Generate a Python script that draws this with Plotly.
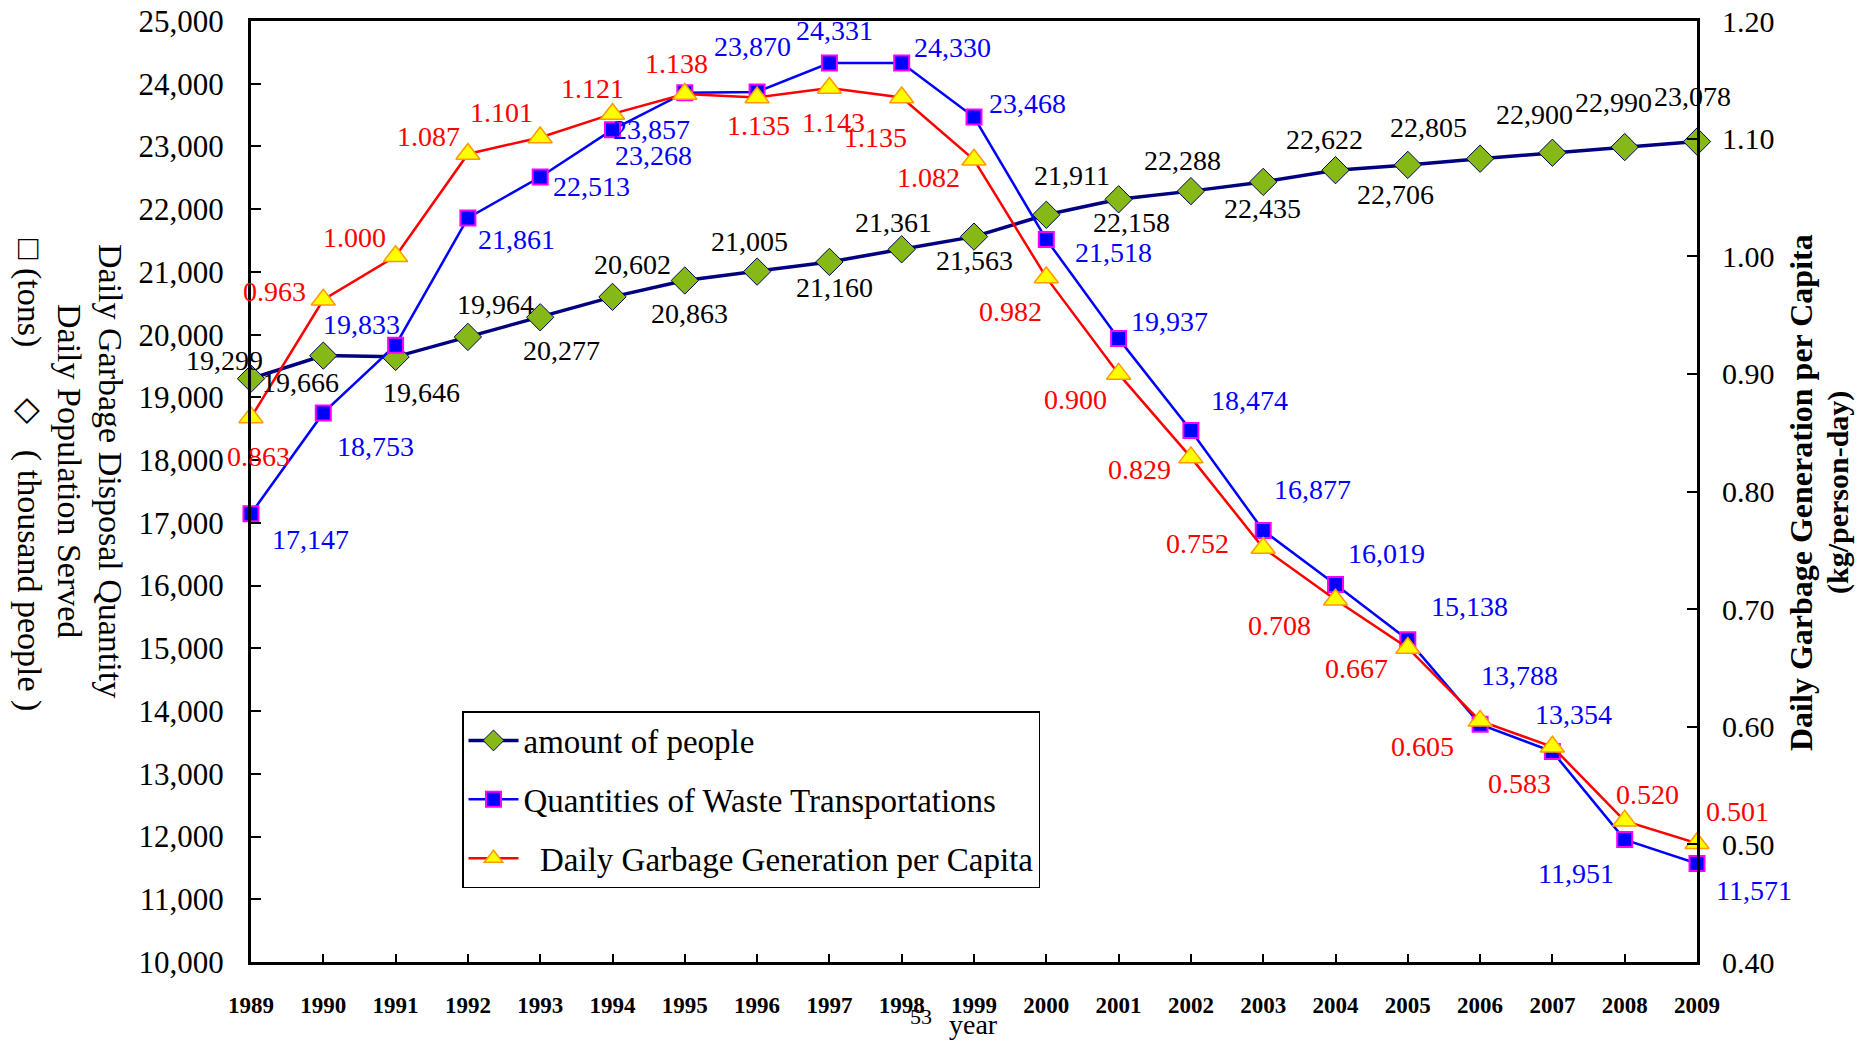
import plotly.graph_objects as go

years = [1989, 1990, 1991, 1992, 1993, 1994, 1995, 1996, 1997, 1998, 1999,
         2000, 2001, 2002, 2003, 2004, 2005, 2006, 2007, 2008, 2009]
year_labels = [str(y) for y in years]

people = [19299, 19666, 19646, 19964, 20277, 20602, 20863, 21005, 21160, 21361, 21563,
          21911, 22158, 22288, 22435, 22622, 22706, 22805, 22900, 22990, 23078]
waste = [17147, 18753, 19833, 21861, 22513, 23268, 23857, 23870, 24331, 24330, 23468,
         21518, 19937, 18474, 16877, 16019, 15138, 13788, 13354, 11951, 11571]
per_capita = [0.863, 0.963, 1.000, 1.087, 1.101, 1.121, 1.138, 1.135, 1.143, 1.135, 1.082,
              0.982, 0.900, 0.829, 0.752, 0.708, 0.667, 0.605, 0.583, 0.520, 0.501]

left_ticks = [10000 + 1000 * i for i in range(16)]
right_ticks = [0.40, 0.50, 0.60, 0.70, 0.80, 0.90, 1.00, 1.10, 1.20]

# label offsets (pixels) -- styling only
people_off = [(-27, 18), (-23, -27), (26, -36), (28, 32), (21, -33), (20, 32), (5, -33),
              (-8, 30), (5, -26), (-8, 27), (0, -24), (26, 39), (13, -23), (-8, 31),
              (-1, -27), (-11, 31), (-12, -30), (-52, 31), (-18, 38), (-11, 45), (-5, 45)]
waste_off = [(59, -26), (52, -34), (-34, 21), (49, -22), (51, -9), (41, -26), (-33, -37),
             (-5, 45), (5, 32), (51, 16), (53, 14), (67, -13), (51, 17), (59, 30),
             (49, 41), (51, 31), (62, 33), (39, 49), (21, 37), (-49, -34), (57, -27)]
pc_off = [(7, -39), (-49, 8), (-41, 19), (-39, 17), (-39, 25), (-20, 25), (-8, 30),
          (1, -28), (4, -34), (-26, -40), (-46, -18), (-36, -34), (-43, -26), (-51, -12),
          (-66, 4), (-56, -26), (-51, -21), (-58, -26), (-33, -37), (23, 26), (40, 32)]

W, H = 1858, 1043
L, R, T, B = 251, 1697, 21, 962
SERIF = "Liberation Serif, Times New Roman, serif"
LBL = 28


def px(x):
    return (x - L) / (R - L)


def py(y):
    return (B - y) / (B - T)


fig = go.Figure()
fig.add_trace(go.Scatter(
    x=years, y=people, mode="lines+markers", name="amount of people",
    line=dict(color="#000080", width=3.5),
    marker=dict(symbol="diamond", size=21, color="#86B817", line=dict(color="#000060", width=1)),
    cliponaxis=False, legendgroup="a"))
fig.add_trace(go.Scatter(
    x=years, y=waste, mode="lines+markers", name="Quantities of Waste Transportations",
    line=dict(color="#0000FF", width=2.5),
    marker=dict(symbol="square", size=15, color="#0000FF", line=dict(color="#FF00FF", width=2)),
    cliponaxis=False, legendgroup="b"))
fig.add_trace(go.Scatter(
    x=years, y=per_capita, yaxis="y2", mode="lines+markers",
    name="\u00a0\u00a0Daily Garbage Generation per Capita",
    line=dict(color="#FF0000", width=2.5),
    marker=dict(symbol="triangle-up", size=21, color="#FFFF00", line=dict(color="#FF9900", width=1.5)),
    cliponaxis=False, legendgroup="c"))

ann = []
for xv, yv, (dx, dy) in zip(years, people, people_off):
    ann.append(dict(x=xv, y=yv, xref="x", yref="y", text=f"{yv:,}", showarrow=False,
                    xshift=dx, yshift=dy, font=dict(family=SERIF, size=LBL, color="black")))
for xv, yv, (dx, dy) in zip(years, waste, waste_off):
    ann.append(dict(x=xv, y=yv, xref="x", yref="y", text=f"{yv:,}", showarrow=False,
                    xshift=dx, yshift=dy, font=dict(family=SERIF, size=LBL, color="#0000FF")))
for xv, yv, (dx, dy) in zip(years, per_capita, pc_off):
    ann.append(dict(x=xv, y=yv, xref="x", yref="y2", text=f"{yv:.3f}", showarrow=False,
                    xshift=dx, yshift=dy, font=dict(family=SERIF, size=LBL, color="#FF0000")))


def title(text, x, y, angle, size, bold=False):
    t = f"<b>{text}</b>" if bold else text
    ann.append(dict(x=px(x), y=py(y), xref="paper", yref="paper", textangle=angle,
                    xanchor="center", yanchor="middle", text=t, showarrow=False,
                    font=dict(family=SERIF, size=size, color="black")))


title("Daily Garbage Disposal Quantity", 111, 471, 90, 34)
title("Daily Population Served", 70, 471, 90, 34)
title("\u25a1\u00a0(tons)\u00a0\u00a0\u00a0\u00a0\u00a0\u00a0\u25c7\u00a0\u00a0\u00a0( thousand people )",
      29, 475, 90, 34)
title("Daily Garbage Generation per Capita", 1801, 493, -90, 32, bold=True)
title("(kg/person-day)", 1838, 493, -90, 30, bold=True)
title("year", 973, 1024, 0, 28)
title("53", 921, 1017, 0, 22)

fig.update_layout(
    width=W, height=H,
    margin=dict(l=L, r=W - R, t=T, b=H - B, autoexpand=False),
    paper_bgcolor="white", plot_bgcolor="white",
    font=dict(family=SERIF, color="black"),
    showlegend=True,
    legend=dict(x=px(462), y=py(711), xanchor="left", yanchor="top",
                bgcolor="white", bordercolor="black", borderwidth=1.5,
                font=dict(family=SERIF, size=33, color="black"),
                traceorder="grouped", tracegroupgap=13, itemwidth=50),
    xaxis=dict(range=[years[0], years[-1]], tickvals=years, ticktext=year_labels,
               showgrid=False, zeroline=False, showline=True, linecolor="black",
               linewidth=3, mirror=True, ticks="inside", ticklen=8, tickwidth=1.5,
               tickcolor="black", ticklabelstandoff=20,
               tickfont=dict(family=SERIF, size=23, color="black", weight="bold")),
    yaxis=dict(range=[10000, 25000], tickvals=left_ticks,
               ticktext=[f"{v:,}" for v in left_ticks],
               showgrid=False, zeroline=False, showline=True, linecolor="black",
               linewidth=3, mirror=True, ticks="inside", ticklen=10, tickwidth=2,
               tickcolor="black", ticklabelstandoff=18,
               tickfont=dict(family=SERIF, size=31, color="black")),
    yaxis2=dict(range=[0.40, 1.20], overlaying="y", side="right", tickvals=right_ticks,
                ticktext=[f"{v:.2f}" for v in right_ticks],
                showgrid=False, zeroline=False, showline=True, linecolor="black",
                linewidth=3, ticks="inside", ticklen=10, tickwidth=2, tickcolor="black",
                ticklabelstandoff=16,
                tickfont=dict(family=SERIF, size=30, color="black")),
    annotations=ann,
)

fig.write_html("out.html", config={"displayModeBar": False},
               post_script="document.body.style.margin='0';document.body.style.overflow='hidden';")
